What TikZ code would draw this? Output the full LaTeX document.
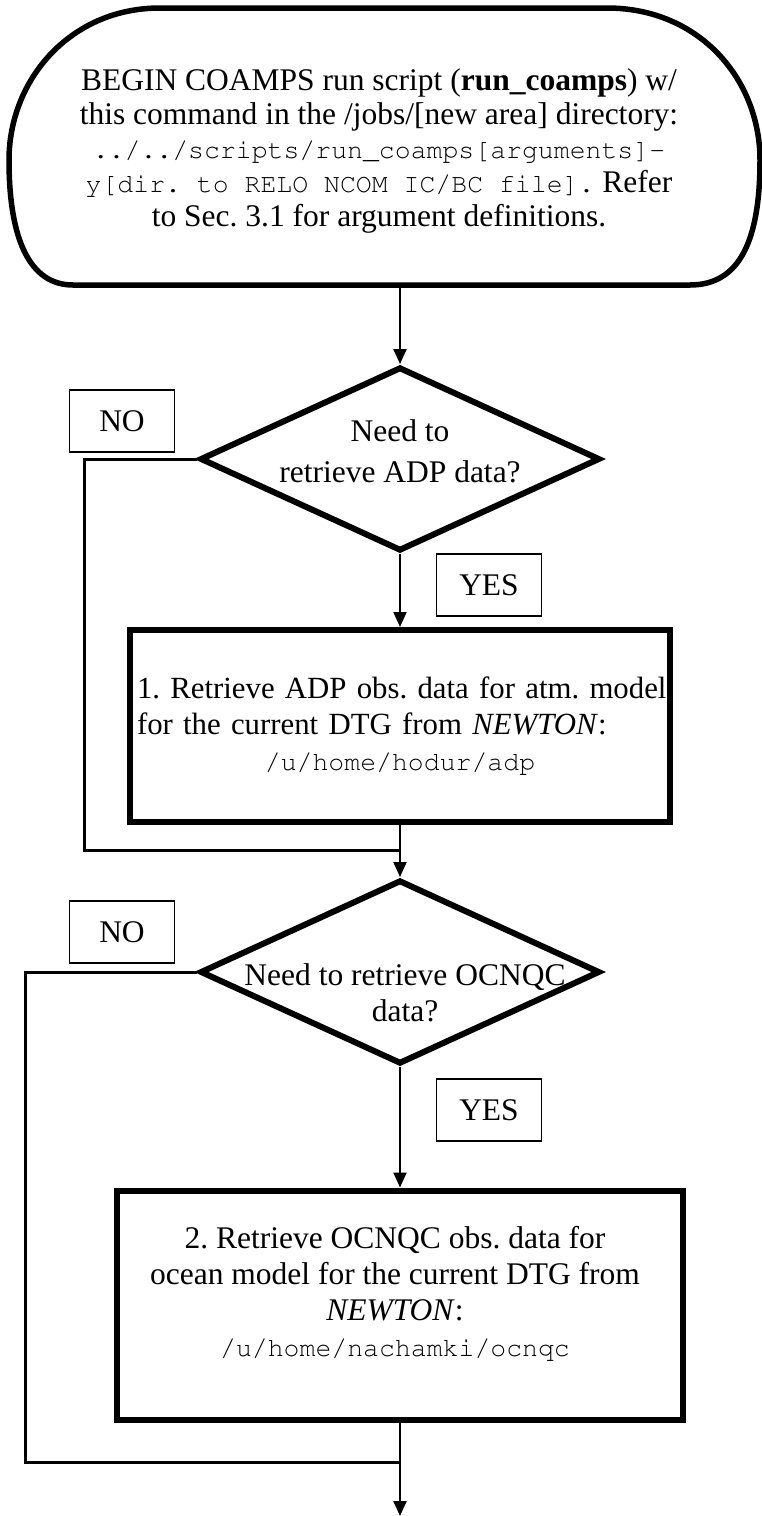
\documentclass[tikz,border=0pt]{standalone}
\usepackage[T1]{fontenc}
\usepackage{fontspec}
\setmainfont{Liberation Serif}
\usetikzlibrary{shapes.geometric,arrows.meta}

\begin{document}
\begin{tikzpicture}[>={Triangle[length=15pt,width=13pt]},x=1pt,y=-1pt,
  font=\fontsize{31.5}{36}\selectfont\frenchspacing,
  decision/.style={diamond,draw,line width=6pt,minimum width=400pt,
    minimum height=184pt,inner sep=0pt},
  process/.style={rectangle,draw,line width=6pt,inner sep=0pt,align=center},
  answer/.style={rectangle,draw,line width=1.8pt,inner sep=0pt,
    minimum width=105pt,minimum height=62pt},
  flow/.style={->,line width=2pt},
  bypass/.style={line width=3pt}]
  % Configurable parameters
  \def\cx{400}
  \def\codefont{\fontencoding{T1}\fontfamily{pcr}\fontsize{26.5}{36}\selectfont}
  %
  \useasboundingbox (0,0) rectangle (762,1516);
  %
  % Start terminal
  \draw[line width=5.5pt] (160,8) -- (607,8)
    .. controls (700,8) and (760,80) .. (760,160)
    .. controls (760,240) and (740,285) .. (690,285) -- (73,285)
    .. controls (30,285) and (9,240) .. (9,160)
    .. controls (9,80) and (70,8) .. (160,8) -- cycle;
  \node[align=center,font=\fontsize{31.5}{34}\selectfont\frenchspacing] (start) at (379,151)
    {BEGIN COAMPS run script (\textbf{run\_coamps}) w/\\
     this command in the /jobs/[new area] directory:\\
     {\codefont ../../scripts/run\_coamps[arguments]-}\\
     {\codefont y[dir. to RELO NCOM IC/BC file].} Refer\\
     to Sec. 3.1 for argument definitions.};
  \coordinate (startout) at (\cx,285);
  %
  % Decision 1
  \node[decision] (q1) at (\cx,459) {};
  \node[align=center] (q1txt) at (\cx,451) {Need to\\[5pt]retrieve ADP data?};
  \node[answer] (no1) at (122,421) {NO};
  \node[answer] (yes1) at (489,585) {YES};
  %
  % Step 1
  \node[process,minimum width=540pt,minimum height=192pt,text width=526pt,
    align=left,font=\fontsize{30.8}{36}\selectfont\frenchspacing] (step1) at (\cx,726)
    {\mbox{1. Retrieve ADP obs. data for atm. model}\\
     for the current DTG from \textit{NEWTON}:\\
     \hbox to \hsize{\hfil\codefont /u/home/hodur/adp\hfil}};
  %
  % Decision 2
  \node[decision] (q2) at (\cx,972) {};
  \node[align=center] (q2txt) at (405,993) {Need to retrieve OCNQC\\data?};
  \node[answer] (no2) at (122,932) {NO};
  \node[answer] (yes2) at (489,1110) {YES};
  %
  % Step 2
  \node[process,minimum width=566pt,minimum height=229pt] (step2) at (\cx,1305) {};
  \node[align=center] (step2txt) at (395,1293)
    {2. Retrieve OCNQC obs. data for\\
     ocean model for the current DTG from\\
     \textit{NEWTON}:\\
     {\codefont /u/home/nachamki/ocnqc}};
  %
  % Connecting lines
  \coordinate (nofar1) at (84,850);
  \coordinate (join1) at (\cx,850);
  \coordinate (nofar2) at (25,1462);
  \coordinate (join2) at (\cx,1462);
  \coordinate (finish) at (\cx,1516);
  \draw[flow] (startout) -- (q1.north);
  \draw[flow] (q1.south) -- (step1.north);
  \draw[bypass] (q1.west) -| (nofar1) -- (join1);
  \draw[flow] (step1.south) -- (q2.north);
  \draw[flow] (q2.south) -- (step2.north);
  \draw[bypass] (q2.west) -| (nofar2) -- (join2);
  \draw[flow] (step2.south) -- (finish);
  %
\end{tikzpicture}
\end{document}
